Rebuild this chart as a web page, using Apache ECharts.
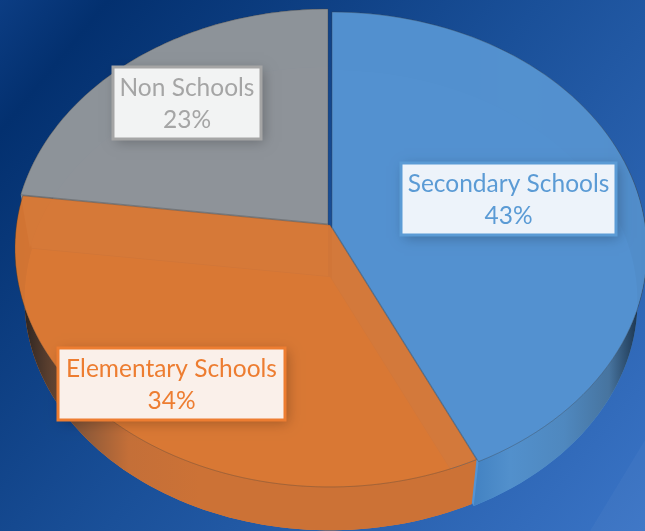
<!DOCTYPE html>
<html>
<head>
<meta charset="utf-8">
<title>Schools</title>
<style>
html,body{margin:0;padding:0;overflow:hidden;}
#main{width:645px;height:531px;}
</style>
<script src="https://cdn.jsdelivr.net/npm/echarts@6/dist/echarts.min.js"></script>
</head>
<body>
<div id="main"></div>
<script>
var categories = ['Secondary Schools', 'Elementary Schools', 'Non Schools'];
var percents = [43, 34, 23];

//颜色
var topColors = ['#5391cf', '#d97834', '#8e9399'];
var floorColors = ['#5494d4', '#e07f3a', '#969a9f'];
var boxFill = ['#edf3fa', '#faf0ea', '#f2f3f3'];
var boxLine = ['#5b9bd5', '#ed7d31', '#a5a5a5'];

//每块的偏移、标签框位置，和数据分开放
var sliceShift = [[2, 2], [0, 0], [-2, -1]];
var boxRects = [[401, 163, 215, 72], [58, 348, 227, 72], [113, 67, 148, 72]];

//饼面的透视：圆心投影到(330,225)
var cx = 330, a = 214, b = 225, c = -0.0985, d = 313.5;
var depth = 52;
var total = 0;
for (var n = 0; n < percents.length; n++) {
	total += percents[n];
}

function project(frac, r, rimScale, shift, dy) {
	var ang = frac * Math.PI * 2;
	var u = Math.sin(ang) * r * rimScale;
	var v = -Math.cos(ang) * r * rimScale;
	var den = 1 + c * v;
	return [cx + d * u / den + shift[0], (a * v + b) / den + shift[1] + dy];
}

function startOf(index) {
	var sum = 0;
	for (var i = 0; i < index; i++) {
		sum += percents[i];
	}
	return sum / total;
}

function arcPoints(index, rimScale, dy) {
	var from = startOf(index);
	var to = from + percents[index] / total;
	var pts = [];
	for (var i = 0; i <= 80; i++) {
		pts.push(project(from + (to - from) * i / 80, 1, rimScale, sliceShift[index], dy));
	}
	return pts;
}

function wallGradient(index) {
	var stops;
	if (index == 0) {
		stops = [
			{offset: 0, color: '#3f7fc0'}, {offset: 0.25, color: '#5290cc'},
			{offset: 0.55, color: '#4f88bf'}, {offset: 0.8, color: '#47749f'},
			{offset: 1, color: '#12263c'}
		];
		return new echarts.graphic.LinearGradient(465, 0, 645, 0, stops, true);
	}
	if (index == 1) {
		stops = [
			{offset: 0, color: '#2a2320'}, {offset: 0.25, color: '#7a5138'},
			{offset: 0.6, color: '#c46f38'}, {offset: 1, color: '#cc7236'}
		];
		return new echarts.graphic.LinearGradient(22, 0, 200, 0, stops, true);
	}
	return '#8a8f95';
}

function renderFloor(params, api) {
	var i = params.dataIndex;
	var pts = arcPoints(i, 0.97, depth);
	pts.push(project(0, 0, 1, sliceShift[i], depth));
	return {type: 'polygon', shape: {points: pts}, style: {fill: floorColors[i]}, silent: true};
}

function renderWall(params, api) {
	var i = params.dataIndex;
	var pts = arcPoints(i, 1, 0).concat(arcPoints(i, 0.97, depth).reverse());
	return {type: 'polygon', shape: {points: pts}, style: {fill: wallGradient(i)}, silent: true};
}

function renderTop(params, api) {
	var i = params.dataIndex;
	var pts = arcPoints(i, 1, 0);
	pts.push(project(0, 0, 1, sliceShift[i], 0));
	return {
		type: 'polygon',
		shape: {points: pts},
		style: {fill: topColors[i], opacity: 0.96, stroke: 'rgba(60,60,60,0.35)', lineWidth: 1},
		silent: true
	};
}

function renderLabel(params, api) {
	var i = params.dataIndex;
	var r = boxRects[i];
	return {
		type: 'group',
		children: [{
			type: 'rect',
			shape: {x: r[0], y: r[1], width: r[2], height: r[3]},
			style: {
				fill: boxFill[i],
				shadowBlur: 12, shadowColor: 'rgba(0,0,0,0.25)', shadowOffsetX: 3, shadowOffsetY: 3
			}
		}, {
			type: 'rect',
			shape: {x: r[0], y: r[1], width: r[2], height: r[3]},
			style: {fill: boxFill[i], stroke: boxLine[i], lineWidth: 3}
		}, {
			type: 'text',
			style: {
				x: r[0] + r[2] / 2,
				y: r[1] + r[3] / 2 + 1,
				text: categories[i] + '\n' + api.value(0) + '%',
				fill: boxLine[i],
				align: 'center',
				verticalAlign: 'middle',
				font: '24.5px Lato',
				lineHeight: 32
			}
		}]
	};
}

var seriesData = [];
for (var k = 0; k < categories.length; k++) {
	seriesData.push({name: categories[k], value: [percents[k]]});
}

function layer(fn, z) {
	return {type: 'custom', coordinateSystem: 'none', renderItem: fn, data: seriesData, z: z, silent: true, clip: false};
}

var option = {
	animation: false,
	backgroundColor: new echarts.graphic.LinearGradient(0, 0, 1, 1, [
		{offset: 0, color: '#0c3d83'},
		{offset: 0.1, color: '#03306f'},
		{offset: 0.5, color: '#1a5099'},
		{offset: 1, color: '#3a74c6'}
	]),
	graphic: [{
		type: 'polygon',
		z: 1,
		shape: {points: [[645, 440], [645, 531], [590, 531]]},
		style: {fill: 'rgba(255,255,255,0.03)'},
		silent: true
	}],
	series: [
		layer(renderFloor, 2),
		layer(renderWall, 3),
		layer(renderTop, 4),
		layer(renderLabel, 5)
	]
};
echarts.init(document.getElementById('main')).setOption(option);
</script>
</body>
</html>
